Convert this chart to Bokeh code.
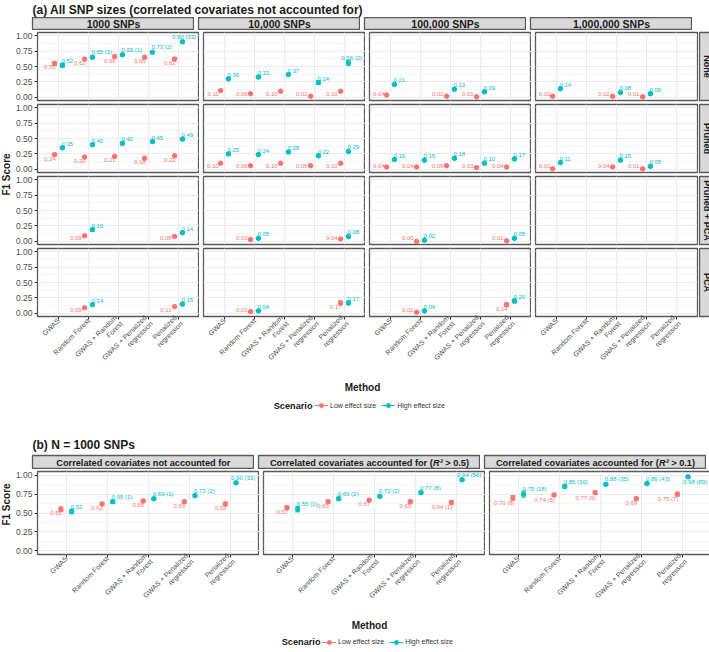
import math
from bokeh.plotting import figure
from bokeh.layouts import column, row
from bokeh.models import (ColumnDataSource, FactorRange, Range1d, FixedTicker,
                          PrintfTickFormatter, Legend, LegendItem)
from bokeh.transform import dodge
from bokeh.core.properties import value
from bokeh.embed import file_html
from bokeh.resources import INLINE

FONT = "Arial, 'Liberation Sans', sans-serif"
LOW_COLOR = "#F8766D"
HIGH_COLOR = "#00BFC4"
BORDER = "#5a5a5a"
GRID = "#EBEBEB"
STRIP_FILL = "#D9D9D9"
INK = "#1A1A1A"

# ---- categories -------------------------------------------------------------
methods = ["GWAS", "Random Forest", "GWAS + Random\nForest",
           "GWAS + Penalized\nregression", "Penalized\nregression"]
snp_sizes = ["1000 SNPs", "10,000 SNPs", "100,000 SNPs", "1,000,000 SNPs"]
adjustments = ["None", "Pruned", "Pruned + PCA", "PCA"]
scenarios = ["Low effect size", "High effect size"]
covariate_settings = [("Correlated covariates not accounted for", "", ""),
                      ("Correlated covariates accounted for (", "R\u00b2", " > 0.5)"),
                      ("Correlated covariates accounted for (", "R\u00b2", " > 0.1)")]

# ---- (a) mean F1 per SNP size: one list per adjustment, one value per method
low_1k = [[0.55, 0.62, 0.66, 0.65, 0.62], [0.24, 0.20, 0.21, 0.18, 0.22],
          [None, 0.09, None, None, 0.08], [None, 0.09, None, None, 0.11]]
high_1k = [[0.52, 0.65, 0.69, 0.73, 0.90], [0.35, 0.40, 0.42, 0.45, 0.49],
           [None, 0.19, None, None, 0.14], [None, 0.14, None, None, 0.15]]
low_10k = [[0.11, 0.06, 0.10, 0.02, 0.10], [0.10, 0.06, 0.10, 0.06, 0.10],
           [None, 0.03, None, None, 0.04], [None, 0.03, None, None, 0.17]]
high_10k = [[0.30, 0.33, 0.37, 0.24, 0.56], [0.25, 0.24, 0.28, 0.22, 0.29],
            [None, 0.05, None, None, 0.08], [None, 0.04, None, None, 0.17]]
low_100k = [[0.04, None, 0.02, 0.01, None], [0.04, 0.04, 0.06, 0.03, 0.04],
            [None, 0.00, None, None, 0.01], [None, 0.02, None, None, 0.14]]
high_100k = [[0.21, None, 0.13, 0.09, None], [0.16, 0.15, 0.18, 0.10, 0.17],
             [None, 0.02, None, None, 0.05], [None, 0.04, None, None, 0.20]]
low_1m = [[0.02, None, 0.02, 0.01, None], [0.01, None, 0.04, 0.01, None],
          [None, None, None, None, None], [None, None, None, None, None]]
high_1m = [[0.14, None, 0.08, 0.06, None], [0.11, None, 0.15, 0.05, None],
           [None, None, None, None, None], [None, None, None, None, None]]

# standard errors (half-length of the error bars)
low_err_1k = [[0.03, 0.02, 0.02, 0.02, 0.025], [0.02, 0.015, 0.015, 0.015, 0.015],
              [None, 0.015, None, None, 0.015], [None, 0.015, None, None, 0.015]]
high_err_1k = [[0.03, 0.02, 0.015, 0.015, 0.015], [0.02, 0.02, 0.02, 0.02, 0.02],
               [None, 0.02, None, None, 0.015], [None, 0.015, None, None, 0.015]]
low_err_10k = [[0.01, 0.01, 0.01, 0.01, 0.01], [0.01, 0.01, 0.01, 0.01, 0.01],
               [None, 0.01, None, None, 0.01], [None, 0.01, None, None, 0.03]]
high_err_10k = [[0.015, 0.015, 0.015, 0.03, 0.04], [0.015, 0.015, 0.015, 0.015, 0.015],
                [None, 0.01, None, None, 0.01], [None, 0.01, None, None, 0.03]]
low_err_100k = [[0.01, None, 0.01, 0.01, None], [0.01, 0.01, 0.01, 0.01, 0.01],
                [None, 0.01, None, None, 0.01], [None, 0.01, None, None, 0.03]]
high_err_100k = [[0.015, None, 0.015, 0.015, None], [0.015, 0.015, 0.015, 0.015, 0.015],
                 [None, 0.01, None, None, 0.01], [None, 0.01, None, None, 0.03]]
low_err_1m = [[0.01, None, 0.01, 0.01, None], [0.01, None, 0.01, 0.01, None],
              [None] * 5, [None] * 5]
high_err_1m = [[0.015, None, 0.015, 0.015, None], [0.015, None, 0.015, 0.015, None],
               [None] * 5, [None] * 5]

# counts printed in parentheses after some labels
n_high_1k = [[None, 1, 1, 2, 33], [None] * 5, [None] * 5, [None] * 5]
n_high_10k = [[None, None, None, None, 2], [None] * 5, [None] * 5, [None] * 5]
n_none = [[None] * 5, [None] * 5, [None] * 5, [None] * 5]

# ---- (b) N = 1000 SNPs, one list per covariate setting ------------------------
low_b = [[0.55, 0.62, 0.66, 0.65, 0.62], [0.57, 0.65, 0.67, 0.65, 0.64],
         [0.70, 0.74, 0.77, 0.69, 0.75]]
high_b = [[0.52, 0.65, 0.69, 0.73, 0.90], [0.55, 0.69, 0.72, 0.77, 0.94],
          [0.75, 0.85, 0.88, 0.89, 0.98]]
low_err_b = [[0.03, 0.02, 0.02, 0.02, 0.025], [0.025, 0.02, 0.02, 0.02, 0.025],
             [0.03, 0.02, 0.02, 0.02, 0.025]]
high_err_b = [[0.03, 0.02, 0.015, 0.015, 0.015], [0.035, 0.02, 0.015, 0.02, 0.01],
              [0.04, 0.02, 0.015, 0.015, 0.008]]
n_low_b = [[None] * 5, [None, None, None, None, 1], [8, 5, 9, None, 7]]
n_high_b = [[None, 1, 1, 2, 33], [1, 2, 2, 8, 56], [18, 30, 35, 43, 89]]

# Arial-compatible advance widths (em) used to lay out label pieces
REGULAR_EM = {".": 0.278, " ": 0.278, "(": 0.333, ")": 0.333}
BOLD_EM = {" ": 0.278, "(": 0.333, ")": 0.333, ".": 0.278, ">": 0.584, "C": 0.722,
           "R": 0.722, "a": 0.556, "c": 0.556, "d": 0.611, "e": 0.556, "f": 0.333,
           "i": 0.278, "l": 0.278, "n": 0.611, "o": 0.611, "r": 0.389, "s": 0.556,
           "t": 0.333, "u": 0.611, "v": 0.556, "\u00b2": 0.333}
Y_LO, Y_HI = -0.05, 1.05


def text_width(s, size, table, default):
    return sum(table.get(ch, default) for ch in s) * size


def text_at(p, x, y, txt, size, bold=False, angle=0.0, align="center",
            baseline="middle", color=INK, x_offset=0, italic=False):
    style = "bold" if bold else "normal"
    if italic:
        style = "bold italic" if bold else "italic"
    p.text(x=[x], y=[y], text=[txt], angle=angle, text_align=align,
           text_baseline=baseline, text_color=color, x_offset=x_offset,
           text_font=value(FONT), text_font_size=f"{size}px",
           text_font_style=style)


def blank(fw, fh, left=0, right=0, top=0, bottom=0, fill="white", outline=None):
    p = figure(frame_width=fw, frame_height=fh, x_range=Range1d(0, 1),
               y_range=Range1d(0, 1), x_axis_location=None, y_axis_location=None,
               toolbar_location=None, output_backend="svg", min_border=0,
               min_border_left=left, min_border_right=right,
               min_border_top=top, min_border_bottom=bottom,
               background_fill_color=fill, border_fill_color="white",
               outline_line_color=outline, outline_line_width=1.3)
    p.grid.visible = False
    return p


def title_fig(txt, height, indent, y):
    p = blank(709 - indent, height, left=indent)
    text_at(p, 0, y, txt, 12, bold=True, align="left")
    return p


def strip(name, fw, fh, left=0, right=0, top=0, bottom=0, size=10.5, angle=0.0):
    p = blank(fw, fh, left, right, top, bottom, fill=STRIP_FILL, outline=BORDER)
    text_at(p, 0.5, 0.5, name, size, bold=True, angle=angle)
    return p


def strip_r2(parts, fw, fh, left=0, top=0, bottom=0, size=9.2):
    """Strip whose title has an italic R\u00b2 in the middle."""
    p = blank(fw, fh, left, 0, top, bottom, fill=STRIP_FILL, outline=BORDER)
    widths = [text_width(s, size, BOLD_EM, 0.556) for s in parts]
    start = -sum(widths) / 2
    for piece, w, it in zip(parts, widths, [False, True, False]):
        if piece:
            lead = len(piece) - len(piece.lstrip(" "))
            text_at(p, 0.5, 0.5, piece.lstrip(" "), size, bold=True, align="left",
                    x_offset=start + lead * BOLD_EM[" "] * size, italic=it)
        start += w
    return p


def facet(low, high, low_err, high_err, low_n, high_n, fw, fh,
          left, right, top, bottom, show_x, show_y, tick_size, label_size):
    pad = 0.1
    p = figure(x_range=FactorRange(factors=methods, range_padding=2 * pad,
                                   range_padding_units="absolute"),
               y_range=Range1d(Y_LO, Y_HI), frame_width=fw, frame_height=fh,
               min_border=0, min_border_left=left, min_border_right=right,
               min_border_top=top, min_border_bottom=bottom,
               toolbar_location=None, output_backend="svg",
               outline_line_color=BORDER, outline_line_width=1.3,
               border_fill_color="white")
    unit = fw / (len(methods) + 2 * pad)
    text_h = label_size * 1.2

    ticks = FixedTicker(ticks=[0, 0.25, 0.5, 0.75, 1.0],
                        minor_ticks=[0.125, 0.375, 0.625, 0.875])
    p.yaxis.ticker = ticks
    p.ygrid.ticker = ticks
    p.ygrid.grid_line_color = GRID
    p.ygrid.grid_line_width = 1
    p.ygrid.minor_grid_line_color = GRID
    p.ygrid.minor_grid_line_width = 0.5
    p.xgrid.grid_line_color = GRID
    p.xgrid.grid_line_width = 1

    if show_y:
        p.yaxis.formatter = PrintfTickFormatter(format="%.2f")
        p.yaxis.axis_line_color = None
        p.yaxis.major_tick_line_color = "#333333"
        p.yaxis.major_tick_out = 3
        p.yaxis.major_tick_in = 0
        p.yaxis.minor_tick_line_color = None
        p.yaxis.major_label_standoff = 1
        p.yaxis.major_label_text_font = FONT
        p.yaxis.major_label_text_font_size = "8.5px"
        p.yaxis.major_label_text_color = "#4D4D4D"
    else:
        p.yaxis.visible = False

    if show_x:
        p.xaxis.axis_line_color = None
        p.xaxis.major_tick_line_color = "#333333"
        p.xaxis.major_tick_out = 3
        p.xaxis.major_tick_in = 0
        p.xaxis.major_label_orientation = math.pi / 4
        p.xaxis.major_label_standoff = 0
        p.xaxis.major_label_text_font = FONT
        p.xaxis.major_label_text_font_size = f"{tick_size}px"
        p.xaxis.major_label_text_color = "#4D4D4D"
    else:
        p.xaxis.visible = False

    series = [(low, low_err, low_n, LOW_COLOR, -0.13, "low"),
              (high, high_err, high_n, HIGH_COLOR, 0.13, "high")]
    for vals, errs, ns, color, shift, side in series:
        keep = [i for i, v in enumerate(vals) if v is not None]
        if not keep:
            continue
        labels, xoff, yoff, below = [], [], [], []
        for i in keep:
            lab = f"{vals[i]:.2f}"
            if ns[i] is not None:
                lab += f" ({ns[i]})"
            labels.append(lab)
            w = text_width(lab, label_size, REGULAR_EM, 0.556)
            px = (i + 0.5 + shift + pad) * unit
            py = (Y_HI - vals[i]) / (Y_HI - Y_LO) * fh
            is_below = side == "low" or vals[i] > 0.95
            if side == "low":
                off = 1.0
                dy = min(2.0, fh - 1 - text_h - py)
                if dy < 2.0:
                    off = -3.0
                if px + off - w < 1:
                    off = 1 + w - px
            else:
                off = -1.0
                dy = 2.0 if is_below else -2.0
                if px + off + w > fw - 1:
                    off = fw - 1 - w - px
            xoff.append(off)
            yoff.append(dy)
            below.append(is_below)
        src = ColumnDataSource(dict(
            method=[methods[i] for i in keep],
            f1=[vals[i] for i in keep],
            lo=[vals[i] - errs[i] for i in keep],
            hi=[vals[i] + errs[i] for i in keep]))
        xs = dodge("method", shift, range=p.x_range)
        p.segment(x0=xs, y0="lo", x1=xs, y1="hi", line_color=color,
                  line_width=1, source=src)
        p.scatter(x=xs, y="lo", marker="dash", size=5, line_color=color,
                  line_width=1, source=src)
        p.scatter(x=xs, y="hi", marker="dash", size=5, line_color=color,
                  line_width=1, source=src)
        p.scatter(x=xs, y="f1", size=4.5, fill_color=color, line_color=color,
                  source=src)

        common = dict(text_color=color, text_font=value(FONT),
                      text_font_size=f"{label_size}px")
        for flag in (False, True):
            idx = [k for k, b in enumerate(below) if b == flag]
            if not idx:
                continue
            lsrc = ColumnDataSource(dict(
                method=[methods[keep[k]] for k in idx],
                f1=[vals[keep[k]] for k in idx],
                label=[labels[k] for k in idx],
                xoff=[xoff[k] for k in idx],
                yoff=[yoff[k] for k in idx]))
            p.text(x=xs, y="f1", text="label",
                   text_align="right" if side == "low" else "left",
                   text_baseline="top" if flag else "bottom",
                   x_offset="xoff", y_offset="yoff", source=lsrc, **common)
    return p


def legend_row(height, scen_right):
    """'Scenario' title followed by a horizontal key of the two scenarios."""
    title = blank(scen_right, height)
    text_at(title, 1, 0.5, "Scenario", 9.2, bold=True, align="right", x_offset=-2)
    keys = blank(709 - scen_right, height)
    items = []
    for name, color in zip(scenarios, [LOW_COLOR, HIGH_COLOR]):
        src = ColumnDataSource(dict(x=[float("nan")], y=[float("nan")]))
        ln = keys.line("x", "y", line_color=color, line_width=1, source=src)
        pt = keys.scatter("x", "y", size=4.5, fill_color=color, line_color=color,
                          source=src)
        items.append(LegendItem(label=name, renderers=[ln, pt]))
    leg = Legend(items=items, orientation="horizontal", location="left",
                 label_text_font=FONT, label_text_font_size="7px",
                 label_text_color="#333333", glyph_width=14, glyph_height=10,
                 label_standoff=2, spacing=5, padding=0, margin=0,
                 label_height=10, border_line_color=None, background_fill_alpha=0)
    keys.add_layout(leg, "center")
    return row([title, keys])


# ---------------------------- panel (a) ---------------------------------------
FW_A, FH_A, LEFT_A, XAX = 162, 68, 20, 64
GAP = 4               # horizontal gap between panels
PAD_T, PAD_B = 2, 2   # vertical gap between panel rows, split above / below
per_size = [(low_1k, high_1k, low_err_1k, high_err_1k, n_none, n_high_1k),
            (low_10k, high_10k, low_err_10k, high_err_10k, n_none, n_high_10k),
            (low_100k, high_100k, low_err_100k, high_err_100k, n_none, n_none),
            (low_1m, high_1m, low_err_1m, high_err_1m, n_none, n_none)]

title_a = title_fig("(a) All SNP sizes (correlated covariates not accounted for)",
                    17, 27, 0.47)

strips_a = row([strip(name, FW_A, 13, left=LEFT_A if c == 0 else GAP)
                for c, name in enumerate(snp_sizes)])

facet_rows = []
for r, adj in enumerate(adjustments):
    top = PAD_T
    bottom = XAX if r == len(adjustments) - 1 else PAD_B
    figs = []
    for c, (lo, hi, le, he, ln, hn) in enumerate(per_size):
        figs.append(facet(lo[r], hi[r], le[r], he[r], ln[r], hn[r], FW_A, FH_A,
                          left=LEFT_A if c == 0 else GAP,
                          right=2 if c == len(per_size) - 1 else 0,
                          top=top, bottom=bottom,
                          show_x=(r == len(adjustments) - 1),
                          show_y=(c == 0), tick_size=7, label_size=6))
    figs.append(strip(adj, 15, FH_A, top=top, bottom=bottom, size=9,
                      angle=-math.pi / 2))
    facet_rows.append(row(figs))

ylab_a = blank(12, 284, top=15, bottom=XAX)
text_at(ylab_a, 0.5, 0.5, "F1 Score", 10, bold=True, angle=math.pi / 2)

panel_a = row([ylab_a, column([strips_a] + facet_rows)])

method_a = blank(660, 13, left=32)
text_at(method_a, 0.5, 0.5, "Method", 10, bold=True)
legend_a = legend_row(24, 314)

# ---------------------------- panel (b) ---------------------------------------
FW_B, FH_B = 222, 83
title_b = title_fig("(b) N = 1000 SNPs", 37, 31, 0.25)

strips_b = row([strip_r2(parts, FW_B, 14, left=LEFT_A if c == 0 else GAP, top=1)
                for c, parts in enumerate(covariate_settings)])
figs_b = []
for c in range(len(covariate_settings)):
    figs_b.append(facet(low_b[c], high_b[c], low_err_b[c], high_err_b[c],
                        n_low_b[c], n_high_b[c], FW_B, FH_B,
                        left=LEFT_A if c == 0 else GAP, right=0, top=2,
                        bottom=XAX, show_x=True, show_y=(c == 0),
                        tick_size=7, label_size=6))
ylab_b = blank(12, 100, bottom=XAX)
text_at(ylab_b, 0.5, 0.5, "F1 Score", 10, bold=True, angle=math.pi / 2)
panel_b = row([ylab_b, column([strips_b, row(figs_b)])])

method_b = blank(674, 13, left=32)
text_at(method_b, 0.5, 0.5, "Method", 10, bold=True)
legend_b = legend_row(21, 322)

page = column([title_a, panel_a, method_a, legend_a, title_b, panel_b,
               method_b, legend_b])

with open("out.html", "w") as fh:
    fh.write(file_html(page, INLINE, title="F1 scores by method"))
